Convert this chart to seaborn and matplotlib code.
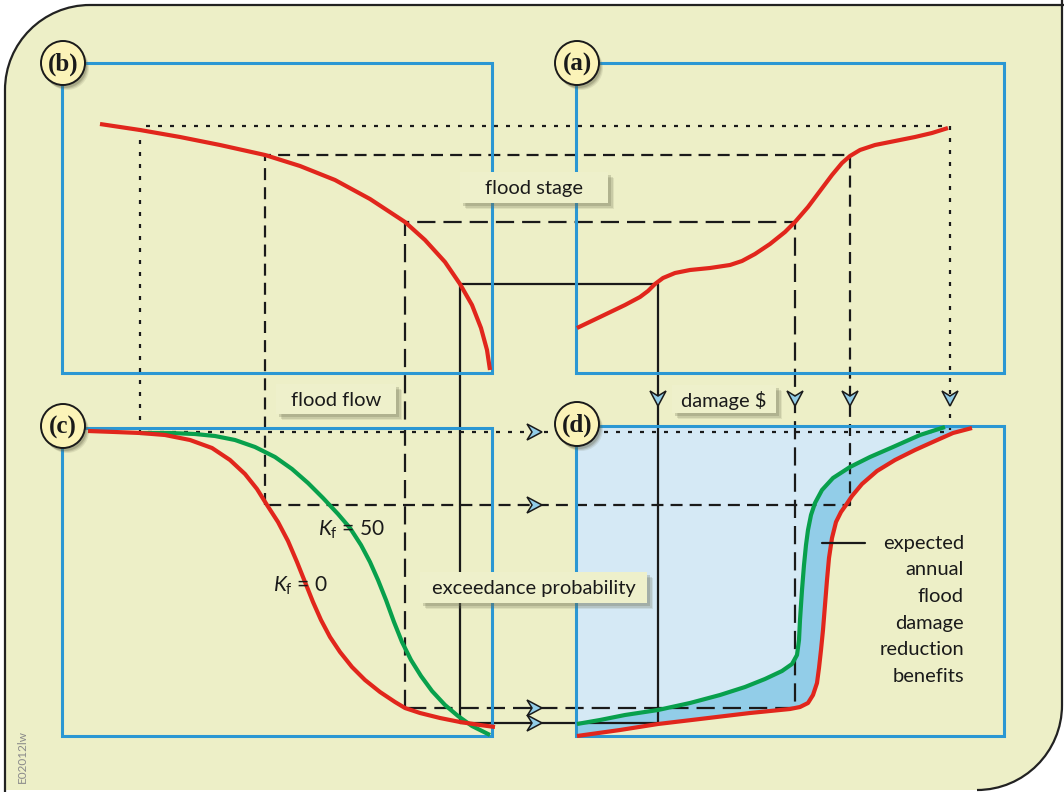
import numpy as np
import pandas as pd
import matplotlib
matplotlib.use("Agg")
import matplotlib.pyplot as plt
import seaborn as sns
from matplotlib.patches import Rectangle, Circle, Polygon, PathPatch
from matplotlib.path import Path

# ---------------- data (diagram coordinates, pixels, y downward) ----------------
# (b) stage vs flow
b_curve_x = [100, 140, 180, 220, 265, 300, 335, 370, 405, 425, 445, 460, 472, 481, 487, 490]
b_curve_y = [124, 130, 137, 145, 155, 166, 180, 199, 222, 240, 262, 284, 305, 328, 350, 370]
# (a) stage vs damage
a_curve_x = [577, 600, 625, 640, 648, 655, 663, 675, 690, 710, 730, 742, 755, 770, 785, 795,
             808, 820, 832, 842, 850, 860, 875, 895, 915, 932, 948]
a_curve_y = [328, 317, 305, 297, 291, 284, 278, 273, 270, 268, 265, 261, 254, 244, 232, 222,
             207, 191, 175, 163, 156, 150, 145, 141, 137, 133, 128]
# (c) flow vs exceedance probability, Kf = 0 (red) and Kf = 50 (green)
c_red_x = [88, 115, 140, 165, 190, 212, 230, 245, 257, 267, 278, 288, 297, 305, 313, 321, 330,
           340, 352, 365, 380, 395, 405, 420, 440, 460, 480, 495]
c_red_y = [431, 432, 433, 435, 440, 448, 460, 474, 489, 505, 522, 541, 562, 582, 602, 620, 637,
           652, 667, 680, 692, 702, 708, 713, 718, 722, 725, 727]
c_green_x = [140, 170, 195, 215, 235, 255, 275, 292, 308, 323, 338, 350, 361, 370, 378, 386,
             394, 402, 411, 421, 432, 445, 458, 472, 490]
c_green_y = [433, 433, 434, 436, 440, 447, 457, 469, 483, 498, 514, 528, 545, 562, 580, 600,
             622, 642, 660, 676, 691, 705, 716, 726, 735]
# (d) damage vs exceedance probability
d_red_x = [577, 620, 658, 700, 750, 790, 800, 808, 813, 817, 819, 821, 823, 825, 827, 829, 832,
           836, 841, 846, 852, 862, 877, 895, 915, 935, 953, 972]
d_red_y = [736, 730, 724, 719, 713, 709, 707, 703, 695, 683, 668, 650, 630, 605, 580, 558, 538,
           522, 512, 505, 496, 484, 471, 460, 450, 441, 433, 428]
d_green_x = [577, 600, 625, 658, 690, 720, 745, 765, 782, 792, 797, 799, 800, 802, 804, 806, 808,
             811, 815, 822, 833, 850, 870, 893, 920, 945]
d_green_y = [724, 720, 715, 710, 703, 695, 687, 679, 671, 664, 655, 640, 620, 590, 565, 545, 530,
             515, 503, 490, 478, 467, 457, 447, 435, 427]

# guide levels (rectangles linking the four panels)
level_left = [140, 265, 405, 460]
level_right = [950, 850, 795, 658]
level_top = [126, 155, 222, 284]
level_bottom = [432, 505, 708, 723]

panel_labels = ["(b)", "(a)", "(c)", "(d)"]
box_labels = ["flood stage", "flood flow", "damage $", "exceedance probability"]
kf_labels = [r"$K_{\mathrm{f}}$ = 50", r"$K_{\mathrm{f}}$ = 0"]
benefit_lines = ["expected", "annual", "flood", "damage", "reduction", "benefits"]

# ---------------- style ----------------
sns.set_theme(style="white")
plt.rcParams['font.family'] = ['Lato', 'DejaVu Sans']
plt.rcParams['mathtext.fontset'] = 'custom'
plt.rcParams['mathtext.rm'] = 'Lato'
plt.rcParams['mathtext.it'] = 'Lato:italic'

BG = "#edefc7"
BLUE = "#2b97d3"
LIGHT = "#d5e9f5"
MID = "#92cde8"
RED = "#e1261c"
GREEN = "#08a04c"
INK = "#1a1a1a"
CIRC = "#fbf3b8"

fig = plt.figure(figsize=(10.64, 7.92), dpi=100, facecolor="white")
ax = fig.add_axes([0, 0, 1, 1])
ax.set_xlim(0, 1064)
ax.set_ylim(792, 0)
ax.axis("off")

# outer rounded background (top-left and bottom-right rounded)
r = 85
k = 0.5523 * r
L, T, R, B = 5, 5, 1062, 790
fill_verts = [(L, 800), (L, T + r), (L, T + r - k), (L + r - k, T), (L + r, T), (R, T),
              (R, B - r), (R, B - r + k), (R - r + k, B), (R - r, B), (L, B), (L, 800)]
fill_codes = [Path.MOVETO, Path.LINETO, Path.CURVE4, Path.CURVE4, Path.CURVE4, Path.LINETO,
              Path.LINETO, Path.CURVE4, Path.CURVE4, Path.CURVE4, Path.LINETO, Path.CLOSEPOLY]
ax.add_patch(PathPatch(Path(fill_verts, fill_codes), facecolor=BG, edgecolor="none", zorder=0))
edge_verts = [(L, 800), (L, T + r), (L, T + r - k), (L + r - k, T), (L + r, T), (1080, T)]
edge_codes = [Path.MOVETO, Path.LINETO, Path.CURVE4, Path.CURVE4, Path.CURVE4, Path.LINETO]
ax.add_patch(PathPatch(Path(edge_verts, edge_codes), facecolor="none", edgecolor="#222222", lw=1.6, zorder=1))
edge2 = [(R, -10), (R, B - r), (R, B - r + k), (R - r + k, B), (R - r, B)]
edge2c = [Path.MOVETO, Path.LINETO, Path.CURVE4, Path.CURVE4, Path.CURVE4]
ax.add_patch(PathPatch(Path(edge2, edge2c), facecolor="none", edgecolor="#222222", lw=1.6, zorder=1))

# panel (d) fills
light_poly = [(576, 426), (948, 426)] + list(zip(d_green_x[::-1], d_green_y[::-1])) + [(576, 724)]
ax.add_patch(Polygon(light_poly, closed=True, facecolor=LIGHT, edgecolor="none", zorder=1))
mid_poly = list(zip(d_green_x, d_green_y)) + [(972, 426)] + list(zip(d_red_x[::-1], d_red_y[::-1]))
ax.add_patch(Polygon(mid_poly, closed=True, facecolor=MID, edgecolor="none", zorder=1))

# guide rectangles
styles = [(0, (1.8, 3.6)), (0, (5.4, 3.2)), (0, (8.2, 3.6)), "solid"]
for lft, rgt, top, bot, ls in zip(level_left, level_right, level_top, level_bottom, styles):
    gx = [lft, lft, rgt, rgt, lft]
    gy = [bot, top, top, bot, bot]
    sns.lineplot(x=gx, y=gy, sort=False, estimator=None, ax=ax, color=INK,
                 lw=1.6, linestyle=ls, zorder=2)

# curves
for cx, cy, col in [(b_curve_x, b_curve_y, RED), (a_curve_x, a_curve_y, RED),
                    (c_green_x, c_green_y, GREEN), (c_red_x, c_red_y, RED),
                    (d_green_x, d_green_y, GREEN), (d_red_x, d_red_y, RED)]:
    sns.lineplot(x=cx, y=cy, sort=False, estimator=None, ax=ax, color=col, lw=3.0,
                 zorder=4, solid_capstyle="butt", solid_joinstyle="round")

# panel boxes
for (x0, x1, y0, y1) in [(62, 492, 63, 373), (576, 1004, 63, 373), (62, 492, 428, 736), (576, 1004, 426, 736)]:
    ax.add_patch(Rectangle((x0, y0), x1 - x0, y1 - y0, fill=False, edgecolor=BLUE, lw=2.2, zorder=3))

# arrow heads
def down_arrow(x, tip):
    return [(x, tip), (x - 8, tip - 15), (x, tip - 10), (x + 8, tip - 15)]

def right_arrow(y, tip):
    return [(tip, y), (tip - 15, y - 8), (tip - 10, y), (tip - 15, y + 8)]

for x in level_right:
    ax.add_patch(Polygon(down_arrow(x, 406), closed=True, facecolor=MID, edgecolor=INK, lw=1.1,
                         joinstyle="miter", zorder=6))
for y in level_bottom:
    ax.add_patch(Polygon(right_arrow(y, 542), closed=True, facecolor=MID, edgecolor=INK, lw=1.1,
                         joinstyle="miter", zorder=6))

# circle labels
for lab, (cx, cy) in zip(panel_labels, [(63, 63), (577, 63), (63, 426), (577, 424)]):
    for d, a in [(5, 0.12), (4, 0.18), (3, 0.25)]:
        ax.add_patch(Circle((cx + d - 1, cy + d), 22, facecolor="#5a5a40", edgecolor="none", alpha=a, zorder=7))
    ax.add_patch(Circle((cx, cy), 22, facecolor=CIRC, edgecolor=INK, lw=1.4, zorder=8))
    ax.text(cx, cy + 1, lab, ha="center", va="center", fontsize=18, fontweight="bold",
            family=["Liberation Serif", "DejaVu Serif"], color=INK, zorder=9)

# text boxes
for lab, (x0, x1, y0, y1) in zip(box_labels, [(460, 608, 172, 203), (276, 396, 384, 414),
                                              (672, 776, 385, 413), (420, 647, 572, 603)]):
    for d, a in [(6, 0.12), (4.5, 0.18), (3, 0.25)]:
        ax.add_patch(Rectangle((x0 + d, y0 + d), x1 - x0, y1 - y0, facecolor="#6a6c50", edgecolor="none",
                               alpha=a, zorder=9))
    ax.add_patch(Rectangle((x0, y0), x1 - x0, y1 - y0, facecolor="#eef0cb", edgecolor="none", zorder=10))
    ax.text((x0 + x1) / 2, (y0 + y1) / 2 + 1, lab, ha="center", va="center", fontsize=14.5,
            color=INK, zorder=11)

# Kf labels
ax.text(318, 530, kf_labels[0], ha="left", va="center", fontsize=15, color=INK, zorder=11)
ax.text(273, 586, kf_labels[1], ha="left", va="center", fontsize=15, color=INK, zorder=11)

# benefits annotation
for i, line in enumerate(benefit_lines):
    ax.text(964, 543 + i * 26.7, line, ha="right", va="center", fontsize=14.5, color=INK, zorder=11)
sns.lineplot(x=[822, 865], y=[543, 543], sort=False, estimator=None, ax=ax, color=INK, lw=1.6, zorder=5)

# figure code
ax.text(22, 783, "E02012lw", rotation=90, ha="center", va="bottom", fontsize=8.5, color="#8a8a8a", zorder=11)

fig.savefig("out.png", dpi=100, facecolor="white")
